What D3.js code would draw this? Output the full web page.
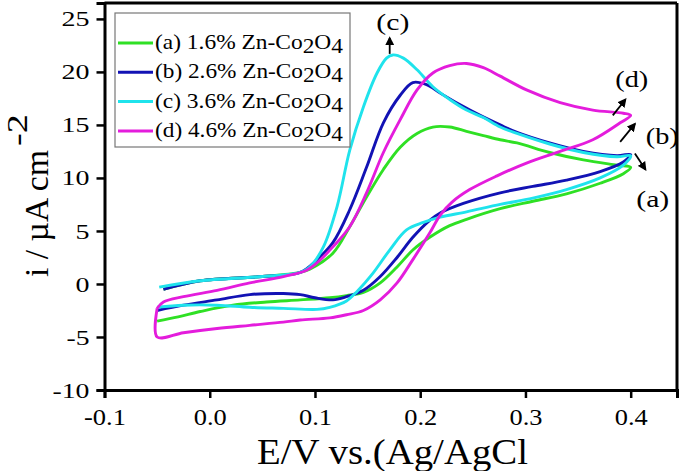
<!DOCTYPE html>
<html><head><meta charset="utf-8">
<script src="https://cdn.jsdelivr.net/npm/d3@7"></script>
<style>
body{margin:0;background:#fff}
svg{display:block}
text{font-family:"Liberation Serif","Times New Roman",serif;fill:#000}
</style></head>
<body><svg id="c" width="685" height="471"></svg>
<script>
// ---- data ----
const xTickValues = [-0.1, 0.0, 0.1, 0.2, 0.3, 0.4];
const xTickLabels = ["-0.1", "0.0", "0.1", "0.2", "0.3", "0.4"];
const yTickValues = [-10, -5, 0, 5, 10, 15, 20, 25];
const yTickLabels = ["-10", "-5", "0", "5", "10", "15", "20", "25"];
const seriesNames = ["(a) 1.6% Zn-Co", "(b) 2.6% Zn-Co", "(c) 3.6% Zn-Co", "(d) 4.6% Zn-Co"];
const seriesColors = ["#2fe024", "#1212b4", "#1fe3ec", "#e41cdc"];

// [E (V), i (uA cm^-2)]  forward scan then reverse scan
const curveA = [
  [-0.044,-0.5],[-0.009,0.3],[0.050,0.7],[0.086,1.1],[0.095,1.4],[0.117,2.9],[0.133,5.4],[0.149,8.2],
  [0.165,10.8],[0.181,12.9],[0.197,14.2],[0.212,14.8],[0.228,14.8],[0.244,14.4],[0.260,14.0],[0.276,13.6],
  [0.292,13.3],[0.323,12.4],[0.355,11.7],[0.387,11.2],[0.400,11.0],
  [0.393,10.4],[0.371,9.5],[0.339,8.5],[0.307,7.8],[0.276,7.1],[0.244,6.1],[0.228,5.5],[0.209,4.4],
  [0.193,3.2],[0.178,1.6],[0.162,0.1],[0.146,-0.8],[0.130,-1.1],[0.114,-1.3],[0.086,-1.5],[0.054,-1.7],
  [0.022,-2.0],[-0.009,-2.6],[-0.030,-3.1],[-0.050,-3.5]
];
const curveB = [
  [-0.044,-0.5],[-0.009,0.3],[0.050,0.7],[0.086,1.1],[0.102,2.3],[0.117,3.9],[0.133,7.0],[0.149,11.0],
  [0.165,15.2],[0.181,17.8],[0.193,19.0],[0.206,18.8],[0.219,18.0],[0.238,16.9],[0.257,15.9],[0.276,15.0],
  [0.292,14.3],[0.323,13.3],[0.355,12.5],[0.387,12.1],[0.400,12.2],
  [0.393,11.5],[0.371,10.6],[0.339,9.8],[0.307,9.2],[0.276,8.6],[0.241,7.6],[0.219,6.7],[0.209,6.0],
  [0.193,4.4],[0.178,2.5],[0.162,0.7],[0.146,-0.6],[0.130,-1.2],[0.117,-1.5],[0.100,-1.3],[0.086,-1.0],
  [0.070,-0.9],[0.038,-1.0],[0.007,-1.5],[-0.025,-2.0],[-0.050,-2.5]
];
const curveC = [
  [-0.048,-0.3],[-0.009,0.3],[0.050,0.7],[0.086,1.1],[0.095,1.6],[0.108,3.5],[0.121,7.3],[0.133,12.6],
  [0.146,16.7],[0.159,19.9],[0.168,21.3],[0.174,21.6],[0.184,21.3],[0.197,20.2],[0.212,18.6],[0.228,17.4],
  [0.244,16.4],[0.260,15.7],[0.276,14.8],[0.292,14.2],[0.323,13.2],[0.355,12.4],[0.387,12.0],[0.400,12.1],
  [0.393,11.2],[0.371,10.0],[0.339,8.9],[0.307,8.1],[0.276,7.5],[0.244,6.8],[0.219,6.3],[0.203,5.8],
  [0.187,5.1],[0.171,3.2],[0.155,1.0],[0.140,-0.7],[0.130,-1.6],[0.114,-2.2],[0.102,-2.4],[0.070,-2.3],
  [0.038,-2.2],[0.007,-2.0],[-0.025,-2.0],[-0.050,-2.2]
];
const curveD = [
  [-0.050,-2.3],[-0.044,-1.7],[-0.025,-1.2],[0.007,-0.6],[0.038,0.1],[0.070,0.7],[0.092,1.3],[0.102,2.0],
  [0.117,3.5],[0.133,5.4],[0.149,8.6],[0.165,12.4],[0.181,15.5],[0.197,18.3],[0.212,19.9],[0.228,20.6],
  [0.244,20.8],[0.260,20.4],[0.276,19.6],[0.301,18.3],[0.333,17.1],[0.364,16.4],[0.393,16.1],[0.400,15.9],
  [0.390,15.2],[0.364,13.6],[0.333,12.5],[0.301,11.4],[0.273,10.2],[0.247,8.9],[0.230,7.7],[0.219,6.5],
  [0.209,4.8],[0.193,2.3],[0.178,0.1],[0.162,-1.5],[0.146,-2.5],[0.130,-2.9],[0.114,-3.2],[0.086,-3.4],[0.070,-3.6],
  [0.038,-3.9],[0.007,-4.2],[-0.025,-4.6],[-0.050,-5.0],[-0.050,-2.3]
];
const curves = [curveA, curveB, curveC, curveD];

// annotations: label, text pos [E,i], arrow from [E,i] to [E,i]
const annLabels = ["(c)", "(d)", "(b)", "(a)"];
const annText = [[0.174,24.0],[0.401,18.6],[0.430,13.2],[0.421,7.3]];
const annArrowFrom = [[0.171,21.7],[0.383,15.9],[0.390,13.4],[0.404,12.3]];
const annArrowTo = [[0.171,23.2],[0.395,17.4],[0.404,15.1],[0.414,10.8]];

// ---- drawing ----
const svg = d3.select("#c");
const x = d3.scaleLinear().domain([-0.1, 0.444]).range([104.5, 677]);
const y = d3.scaleLinear().domain([-10, 26.5]).range([390, 3]);

svg.append("defs").append("marker").attr("id","ah").attr("viewBox","0 0 10 10")
  .attr("refX",8).attr("refY",5).attr("markerWidth",5).attr("markerHeight",5)
  .attr("orient","auto").append("path").attr("d","M0,0L10,5L0,10z").attr("fill","#000");

// curves
const line = d3.line().x(d=>x(d[0])).y(d=>y(d[1])).curve(d3.curveCatmullRom.alpha(0.5));
curves.forEach((c,k)=>{
  svg.append("path").datum(c).attr("d",line).attr("fill","none")
    .attr("stroke",seriesColors[k]).attr("stroke-width",2.9).attr("stroke-linejoin","round");
});

// frame top/right
svg.append("line").attr("x1",x(-0.1)).attr("x2",x(0.444)).attr("y1",y(26.5)).attr("y2",y(26.5)).attr("stroke","#000").attr("stroke-width",3);
svg.append("line").attr("x1",x(0.444)).attr("x2",x(0.444)).attr("y1",y(26.5)).attr("y2",y(-10)).attr("stroke","#000").attr("stroke-width",3);

// axes
const xAxis = svg.append("g").attr("transform",`translate(0,${y(-10)})`)
  .call(d3.axisBottom(x).tickValues(xTickValues).tickFormat((d,i)=>xTickLabels[i]).tickSizeOuter(0).tickSize(8).tickPadding(10));
const yAxis = svg.append("g").attr("transform",`translate(${x(-0.1)},0)`)
  .call(d3.axisLeft(y).tickValues(yTickValues).tickFormat((d,i)=>yTickLabels[i]).tickSizeOuter(0).tickSize(8).tickPadding(8));
[xAxis,yAxis].forEach(a=>{
  a.select(".domain").attr("stroke","#000").attr("stroke-width",3);
  a.selectAll(".tick line").attr("stroke","#000").attr("stroke-width",2.5);
  a.selectAll("text").style("font-family",'"Liberation Serif","Times New Roman",serif').attr("fill","#000");
});
xAxis.selectAll("text").style("font-size","24px")
  .attr("lengthAdjust","spacingAndGlyphs")
  .attr("textLength",(d,i)=>xTickLabels[i].startsWith("-")?42:33);
yAxis.selectAll("text").style("font-size","22px").attr("x",-15)
  .attr("lengthAdjust","spacingAndGlyphs")
  .attr("textLength",(d,i)=>{const s=yTickLabels[i];return s.replace("-","").length*14+(s.startsWith("-")?9:0);});

// axis titles
svg.append("text").attr("x",392.5).attr("y",464).attr("text-anchor","middle")
  .style("font-size","36px").attr("textLength",271).attr("lengthAdjust","spacingAndGlyphs")
  .text("E/V vs.(Ag/AgCl");
const yl = svg.append("g").attr("transform","translate(48,277) rotate(-90)");
yl.append("text").attr("x",0).attr("y",0).style("font-size","34px")
  .attr("textLength",127).attr("lengthAdjust","spacingAndGlyphs").text("i / µA cm");
yl.append("text").attr("x",131).attr("y",-21).style("font-size","29px")
  .attr("textLength",32).attr("lengthAdjust","spacingAndGlyphs").text("-2");

// legend
svg.append("rect").attr("x",115).attr("y",13).attr("width",235).attr("height",134)
  .attr("fill","#fff").attr("stroke","#777").attr("stroke-width",1.2);
seriesNames.forEach((n,k)=>{
  const yy = 43 + k*29.3;
  svg.append("line").attr("x1",118).attr("x2",153).attr("y1",yy).attr("y2",yy)
    .attr("stroke",seriesColors[k]).attr("stroke-width",3);
  const t = svg.append("text").attr("x",155).attr("y",yy+6).style("font-size","21px")
    .attr("textLength",188).attr("lengthAdjust","spacingAndGlyphs");
  t.append("tspan").text(n);
  t.append("tspan").attr("dy",4).text("2");
  t.append("tspan").attr("dy",-4).text("O");
  t.append("tspan").attr("dy",4).text("4");
});

// annotations
annLabels.forEach((l,k)=>{
  svg.append("text").attr("x",x(annText[k][0])).attr("y",y(annText[k][1])).attr("text-anchor","middle")
    .style("font-size","23px").attr("textLength",33).attr("lengthAdjust","spacingAndGlyphs").text(l);
  svg.append("line").attr("x1",x(annArrowFrom[k][0])).attr("y1",y(annArrowFrom[k][1]))
    .attr("x2",x(annArrowTo[k][0])).attr("y2",y(annArrowTo[k][1]))
    .attr("stroke","#000").attr("stroke-width",1.8).attr("marker-end","url(#ah)");
});
</script></body></html>
